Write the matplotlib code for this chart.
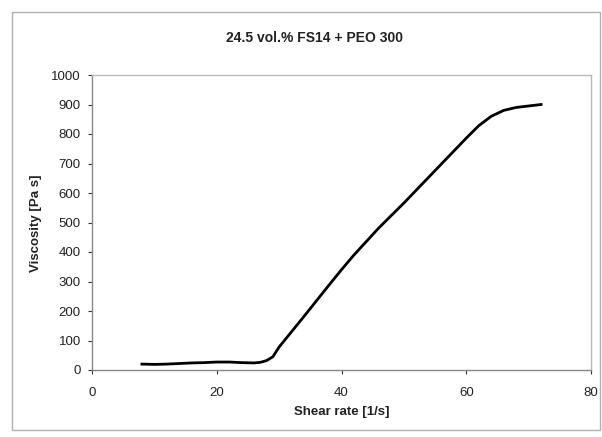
import matplotlib
matplotlib.use("Agg")
import matplotlib.pyplot as plt
from matplotlib.patches import Rectangle

shear_rate = [8, 10, 12, 14, 16, 18, 20, 22, 24, 26, 27, 28, 29, 30, 32, 34, 36, 38, 40,
              42, 44, 46, 48, 50, 52, 54, 56, 58, 60, 62, 64, 66, 68, 70, 72]
viscosity = [20, 19, 20, 22, 24, 25, 27, 27, 25, 24, 26, 32, 45, 78, 130, 182, 235, 288, 340,
             390, 436, 482, 524, 566, 610, 654, 698, 742, 786, 828, 860, 880, 890, 895, 900]
x_ticks = [0, 20, 40, 60, 80]
y_ticks = list(range(0, 1001, 100))

plt.rcParams['font.family'] = ['Liberation Sans', 'DejaVu Sans']

fig = plt.figure(figsize=(6.02, 4.37), dpi=100)
fig.patches.append(Rectangle((12/602, 1-430/437), (600-12)/602, (430-12)/437,
                             transform=fig.transFigure, fill=False,
                             edgecolor='#b0b0b0', linewidth=1.0))
ax = fig.add_axes([92/602, 1-370/437, (591-92)/602, (370-75)/437])
ax.plot(shear_rate, viscosity, color='black', linewidth=2.0)
ax.set_xlim(0, 80)
ax.set_ylim(0, 1000)
ax.set_xticks(x_ticks)
ax.set_yticks(y_ticks)
ax.tick_params(axis='both', labelsize=9.5, colors='#333333', length=3, width=0.8,
               direction='out')
for lab in ax.get_xticklabels() + ax.get_yticklabels():
    lab.set_color('#222222')
ax.tick_params(axis='x', pad=9)
ax.tick_params(axis='y', pad=5)
for s in ['left', 'bottom']:
    ax.spines[s].set_color('#888888')
    ax.spines[s].set_linewidth(1.0)
for s in ['top', 'right']:
    ax.spines[s].set_color('#bbbbbb')
    ax.spines[s].set_linewidth(1.0)
fig.text(314/602, 1-38/437, '24.5 vol.% FS14 + PEO 300', ha='center', va='center',
         fontsize=10, fontweight='bold', color='#222222')
fig.text(342/602, 1-412/437, 'Shear rate [1/s]', ha='center', va='center',
         fontsize=9.5, fontweight='bold', color='#222222')
fig.text(36/602, 1-223/437, 'Viscosity [Pa s]', ha='center', va='center',
         fontsize=9.5, fontweight='bold', rotation=90, color='#222222')
fig.savefig('out.png', dpi=100)
